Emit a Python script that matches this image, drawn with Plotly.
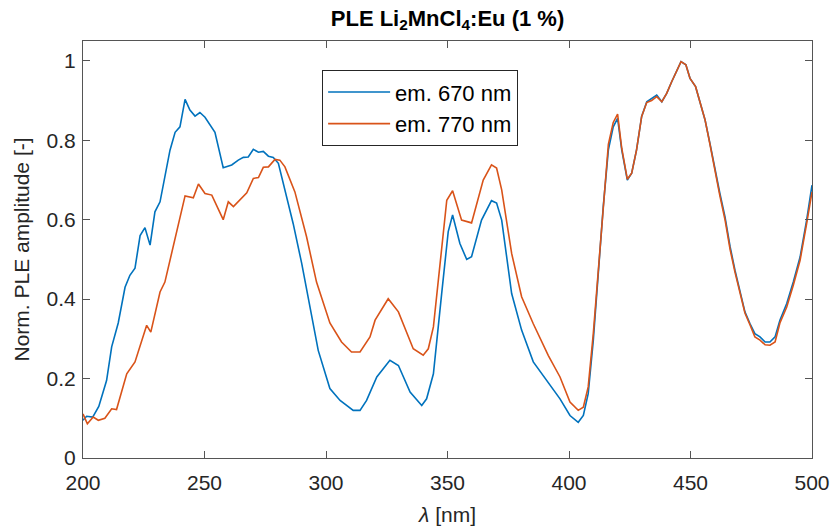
import plotly.graph_objects as go

# em. 670 nm
x670 = [200, 201.5, 204, 206.5, 209.7, 211.8, 214.5, 217.3, 219.3, 221.4,
        223.5, 225.5, 227.6, 229.6, 231.7, 233.7, 235.8, 237.9, 239.9, 242,
        244, 246.1, 248.1, 250.2, 252.3, 254.3, 257.7, 261.2, 263.9, 266,
        268, 270.1, 272.2, 274.2, 276.3, 278.3, 280.4, 283.1, 286.5, 290,
        293.4, 296.8, 301.6, 305.8, 311.2, 314, 316.7, 320.9, 326.3, 329.8,
        334.6, 339.4, 341.4, 344.2, 347.6, 350.3, 352.1, 355.1, 357.9, 359.9,
        364, 368.1, 370.2, 372.3, 376.4, 380.5, 385.3, 391.5, 396.3, 400.4,
        403.8, 405.9, 407.9, 410, 412.1, 414.1, 416.2, 418.2, 420, 421.7,
        424, 425.8, 427.8, 429.9, 432, 434, 436.1, 438.2, 440.2, 442.3,
        444.3, 446.1, 448.1, 449.8, 452.1, 453.9, 456, 458, 460.1, 462.1,
        464.2, 466.3, 468.3, 470.4, 472.4, 474.5, 476.5, 478.6, 480.7, 482.7,
        484.8, 486.8, 489.6, 492.3, 495.1, 497.8, 500]
y670 = [0.095, 0.105, 0.103, 0.13, 0.195, 0.28, 0.34, 0.43, 0.46, 0.478,
        0.56, 0.58, 0.536, 0.62, 0.645, 0.708, 0.775, 0.82, 0.834, 0.903,
        0.876, 0.861, 0.87, 0.858, 0.838, 0.82, 0.731, 0.738, 0.75, 0.757,
        0.758, 0.777, 0.77, 0.772, 0.76, 0.757, 0.742, 0.675, 0.59, 0.49,
        0.38, 0.271, 0.175, 0.145, 0.12, 0.12, 0.145, 0.204, 0.246, 0.233,
        0.166, 0.132, 0.149, 0.212, 0.414, 0.57, 0.612, 0.54, 0.5, 0.507,
        0.599, 0.648, 0.642, 0.599, 0.414, 0.322, 0.242, 0.191, 0.149, 0.107,
        0.09, 0.107, 0.162, 0.296, 0.465, 0.633, 0.776, 0.834, 0.855, 0.776,
        0.7, 0.717, 0.776, 0.86, 0.897, 0.906, 0.914, 0.897, 0.918, 0.948,
        0.973, 0.998, 0.99, 0.956, 0.935, 0.897, 0.851, 0.792, 0.725, 0.666,
        0.607, 0.532, 0.473, 0.422, 0.368, 0.338, 0.313, 0.305, 0.292, 0.292,
        0.305, 0.347, 0.389, 0.443, 0.506, 0.599, 0.687]

# em. 770 nm
x770 = [200, 201.8, 204.2, 206.3, 209, 211.8, 213.8, 218, 221.4, 226.2,
        227.9, 231.7, 233.7, 237.9, 242, 245.4, 247.5, 250.2, 253, 257.7,
        259.8, 261.9, 267.4, 270.1, 272.2, 274.2, 276.3, 279, 281, 283.1,
        287.2, 292, 296.1, 301.6, 306.4, 310.5, 314, 318.1, 320.2, 325.6,
        329.8, 335.9, 340, 342.1, 344.2, 349.7, 352.1, 355.8, 359.9, 364.7,
        368.1, 370.2, 372.3, 376.4, 380.5, 385.3, 391.5, 396.3, 400.4, 403.8,
        405.9, 407.9, 410, 412.1, 414.1, 416.2, 418.2, 420, 421.7, 424,
        425.8, 427.8, 429.9, 432, 434, 436.1, 438.2, 440.2, 442.3, 444.3,
        446.1, 448.1, 449.8, 452.1, 453.9, 456, 458, 460.1, 462.1, 464.2,
        466.3, 468.3, 470.4, 472.4, 474.5, 476.5, 478.6, 480.7, 482.7, 484.8,
        486.8, 489.6, 492.3, 495.1, 497.8, 500]
y770 = [0.111, 0.086, 0.103, 0.095, 0.1, 0.124, 0.122, 0.212, 0.242, 0.334,
        0.317, 0.418, 0.443, 0.557, 0.66, 0.655, 0.69, 0.666, 0.662, 0.6,
        0.645, 0.633, 0.668, 0.704, 0.706, 0.732, 0.733, 0.752, 0.75, 0.733,
        0.67, 0.557, 0.443, 0.34, 0.292, 0.267, 0.267, 0.305, 0.347, 0.401,
        0.368, 0.275, 0.259, 0.275, 0.33, 0.649, 0.673, 0.599, 0.592, 0.7,
        0.738, 0.73, 0.675, 0.515, 0.406, 0.338, 0.258, 0.204, 0.141, 0.12,
        0.128, 0.179, 0.313, 0.475, 0.64, 0.79, 0.845, 0.866, 0.78, 0.702,
        0.717, 0.776, 0.86, 0.895, 0.9, 0.91, 0.897, 0.918, 0.948, 0.973,
        0.998, 0.99, 0.956, 0.935, 0.897, 0.851, 0.79, 0.72, 0.66, 0.6,
        0.525, 0.468, 0.418, 0.365, 0.335, 0.305, 0.297, 0.285, 0.284, 0.292,
        0.34, 0.38, 0.435, 0.498, 0.59, 0.67]

xticks = [200, 250, 300, 350, 400, 450, 500]
yticks = [0, 0.2, 0.4, 0.6, 0.8, 1]
ytick_labels = ["0", "0.2", "0.4", "0.6", "0.8", "1"]

FONT = "Liberation Sans, Arial, sans-serif"
TXT = "#262626"
AX = "#555555"

fig = go.Figure()
fig.add_trace(go.Scatter(x=x670, y=y670, mode="lines", name="em. 670 nm",
                         line=dict(color="#0072BD", width=1.6)))
fig.add_trace(go.Scatter(x=x770, y=y770, mode="lines", name="em. 770 nm",
                         line=dict(color="#D95319", width=1.6)))

axis_common = dict(showline=True, linecolor=AX, linewidth=1.2, mirror="ticks",
                   ticks="inside", ticklen=7, tickcolor=AX, showgrid=False,
                   zeroline=False, automargin=False,
                   tickfont=dict(family=FONT, size=21, color=TXT))

fig.update_layout(
    width=832, height=532,
    margin=dict(l=83, r=20, t=41, b=74, autoexpand=False),
    paper_bgcolor="white", plot_bgcolor="white",
    font=dict(family=FONT, size=21, color=TXT),
    title=dict(text="<b>PLE Li<sub>2</sub>MnCl<sub>4</sub>:Eu (1 %)</b>",
               x=0.5, xref="paper", xanchor="center",
               y=1 - 18 / 532, yref="container", yanchor="middle",
               font=dict(family=FONT, size=22, color="black")),
    xaxis=dict(range=[200, 500], tickvals=xticks, ticklabelstandoff=6,
               title=dict(text="<i>λ</i> [nm]", standoff=14,
                          font=dict(family=FONT, size=21, color=TXT)),
               **axis_common),
    yaxis=dict(range=[0, 1.05], tickvals=yticks, ticktext=ytick_labels,
               ticklabelstandoff=2,
               title=dict(text="Norm. PLE amplitude [-]", standoff=11,
                          font=dict(family=FONT, size=21, color=TXT)),
               **axis_common),
    legend=dict(x=0.328, y=0.93, xanchor="left", yanchor="top",
                bgcolor="white", bordercolor=TXT, borderwidth=1,
                font=dict(family=FONT, size=22, color="black"),
                itemwidth=62, tracegroupgap=0),
    showlegend=True,
)

fig.write_html("out.html")
